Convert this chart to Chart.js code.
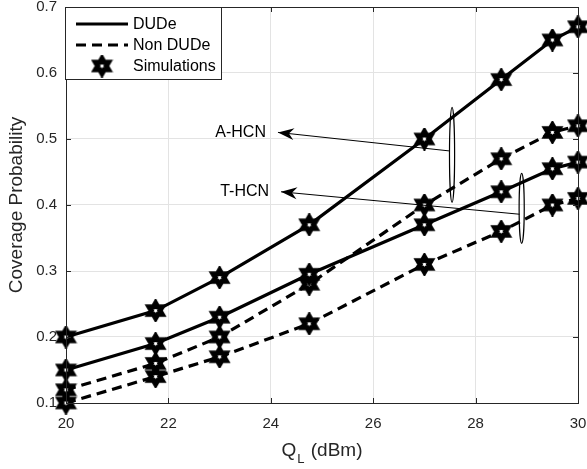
<!DOCTYPE html>
<html>
<head>
<meta charset="utf-8">
<script src="https://cdn.jsdelivr.net/npm/chart.js@4/dist/chart.umd.min.js"></script>
<style>
  html, body { margin: 0; padding: 0; background: #fff; }
  #wrap { width: 587px; height: 469px; }
</style>
</head>
<body>
<div id="wrap"><canvas id="coverageChart" width="587" height="469"></canvas></div>
<script>
// x positions of the markers (dBm)
var qlValues = [20, 21.75, 23, 24.75, 27, 28.5, 29.5, 30];

// coverage probability per curve
var aHcnDude    = [0.20, 0.24, 0.29, 0.37, 0.50, 0.59, 0.65, 0.67];
var aHcnNonDude = [0.12, 0.16, 0.20, 0.28, 0.40, 0.47, 0.51, 0.52];
var tHcnDude    = [0.15, 0.19, 0.23, 0.295, 0.37, 0.42, 0.455, 0.465];
var tHcnNonDude = [0.10, 0.14, 0.17, 0.22, 0.31, 0.36, 0.40, 0.41];

// axis ticks
var xTicks = [20, 22, 24, 26, 28, 30];
var yTicks = [0.1, 0.2, 0.3, 0.4, 0.5, 0.6, 0.7];

var legendLabels = ['DUDe', 'Non DUDe', 'Simulations'];

// ellipse groups + arrows (data coordinates)
var annotations = [
    { text: 'A-HCN', ellipse: [27.54, 0.476, 0.1, 0.072], from: [27.48, 0.482], to: [24.14, 0.51] },
    { text: 'T-HCN', ellipse: [28.9, 0.395, 0.1, 0.053], from: [28.86, 0.386], to: [24.2, 0.42] }
];

var FONT = '"Liberation Sans", Arial, sans-serif';
var INK = '#262626';

// hexagram marker
function makeHexagram(r, lw) {
    var size = Math.ceil(2 * r + lw + 2);
    var c = document.createElement('canvas');
    c.width = size; c.height = size;
    var g = c.getContext('2d');
    var cx = size / 2, cy = size / 2;
    g.beginPath();
    for (var i = 0; i < 12; i++) {
        var a = -Math.PI / 2 + i * Math.PI / 6;
        var rr = (i % 2 === 0) ? r : r / Math.sqrt(3);
        var px = cx + rr * Math.cos(a), py = cy + rr * Math.sin(a);
        if (i === 0) g.moveTo(px, py); else g.lineTo(px, py);
    }
    g.closePath();
    g.fillStyle = '#fff';
    g.fill();
    g.lineJoin = 'miter';
    g.lineWidth = lw;
    g.strokeStyle = '#000';
    g.stroke();
    return c;
}
var star = makeHexagram(7.5, 5.2);

function toPoints(ys) {
    return qlValues.map(function(x, i) { return { x: x, y: ys[i] }; });
}

function series(values, dashed) {
    return {
        data: toPoints(values),
        borderColor: '#000',
        borderWidth: 3.2,
        borderDash: dashed ? [10, 6] : [],
        pointStyle: star,      // image is drawn at its own size
        pointRadius: 3,
        pointBorderWidth: 0,
        backgroundColor: '#000',
        tension: 0,
        fill: false,
        clip: false
    };
}

function arrowHead(ctx, x1, y1, x2, y2) {
    var ang = Math.atan2(y2 - y1, x2 - x1);
    var len = 16, half = 6, notch = 5;
    ctx.save();
    ctx.translate(x2, y2);
    ctx.rotate(ang);
    ctx.beginPath();
    ctx.moveTo(0, 0);
    ctx.lineTo(-len, -half);
    ctx.lineTo(-len + notch, 0);
    ctx.lineTo(-len, half);
    ctx.closePath();
    ctx.fillStyle = '#000';
    ctx.fill();
    ctx.restore();
}

var framePlugin = {
    id: 'frame',
    afterDraw: function(chart) {
        var ctx = chart.ctx, a = chart.chartArea;
        var xs = chart.scales.x, ys = chart.scales.y;
        ctx.save();

        // annotations
        annotations.forEach(function(an) {
            var ex = xs.getPixelForValue(an.ellipse[0]);
            var ey = ys.getPixelForValue(an.ellipse[1]);
            var rx = Math.abs(xs.getPixelForValue(an.ellipse[0] + an.ellipse[2] / 2) - ex);
            var ry = Math.abs(ys.getPixelForValue(an.ellipse[1] + an.ellipse[3]) - ey);
            ctx.beginPath();
            ctx.ellipse(ex, ey, rx, ry, 0, 0, Math.PI * 2);
            ctx.lineWidth = 1.2;
            ctx.strokeStyle = '#000';
            ctx.stroke();

            var fx = xs.getPixelForValue(an.from[0]), fy = ys.getPixelForValue(an.from[1]);
            var tx = xs.getPixelForValue(an.to[0]), ty = ys.getPixelForValue(an.to[1]);
            ctx.beginPath();
            ctx.moveTo(fx, fy);
            ctx.lineTo(tx, ty);
            ctx.lineWidth = 1;
            ctx.stroke();
            arrowHead(ctx, fx, fy, tx, ty);

            ctx.font = '16px ' + FONT;
            ctx.fillStyle = '#000';
            ctx.textAlign = 'right';
            ctx.textBaseline = 'middle';
            ctx.fillText(an.text, tx - 12, ty);
        });

        // box + inward ticks
        ctx.strokeStyle = INK;
        ctx.lineWidth = 1;
        ctx.strokeRect(Math.round(a.left) + 0.5, Math.round(a.top) + 0.5,
            Math.round(a.right - a.left), Math.round(a.bottom - a.top));
        ctx.beginPath();
        xTicks.forEach(function(v) {
            var px = Math.round(xs.getPixelForValue(v)) + 0.5;
            ctx.moveTo(px, a.bottom); ctx.lineTo(px, a.bottom - 5);
            ctx.moveTo(px, a.top); ctx.lineTo(px, a.top + 5);
        });
        yTicks.forEach(function(v) {
            var py = Math.round(ys.getPixelForValue(v)) + 0.5;
            ctx.moveTo(a.left, py); ctx.lineTo(a.left + 5, py);
            ctx.moveTo(a.right, py); ctx.lineTo(a.right - 5, py);
        });
        ctx.stroke();

        // legend
        var lx = Math.round(a.left) - 1, ly = Math.round(a.top), lw = 156, lh = 72;
        ctx.fillStyle = '#fff';
        ctx.fillRect(lx, ly, lw, lh);
        ctx.strokeStyle = INK;
        ctx.strokeRect(lx + 0.5, ly + 0.5, lw, lh);
        var rows = [ly + 17, ly + 38, ly + 59];
        ctx.strokeStyle = '#000';
        ctx.lineWidth = 3.2;
        ctx.setLineDash([]);
        ctx.beginPath(); ctx.moveTo(lx + 11, rows[0]); ctx.lineTo(lx + 63, rows[0]); ctx.stroke();
        ctx.setLineDash([10, 6]);
        ctx.beginPath(); ctx.moveTo(lx + 11, rows[1]); ctx.lineTo(lx + 63, rows[1]); ctx.stroke();
        ctx.setLineDash([]);
        ctx.drawImage(star, lx + 37 - star.width / 2, rows[2] - star.height / 2);
        ctx.font = '16px ' + FONT;
        ctx.fillStyle = '#000';
        ctx.textAlign = 'left';
        ctx.textBaseline = 'middle';
        legendLabels.forEach(function(t, i) { ctx.fillText(t, lx + 68, rows[i] + 1); });

        // axis titles
        ctx.fillStyle = INK;
        var big = '19px ' + FONT, small = '13px ' + FONT;
        ctx.font = big;
        var cx = (a.left + a.right) / 2, ty2 = 451;
        var wQ = ctx.measureText('Q').width;
        var rest = ' (dBm)';
        var wR = ctx.measureText(rest).width;
        ctx.font = small;
        var wL = ctx.measureText('L').width + 2;
        var start = cx - (wQ + wL + wR) / 2;
        ctx.textAlign = 'left';
        ctx.font = big;
        ctx.fillText('Q', start, ty2);
        ctx.fillText(rest, start + wQ + wL, ty2);
        ctx.font = small;
        ctx.fillText('L', start + wQ + 1, ty2 + 8);

        ctx.font = big;
        ctx.save();
        ctx.translate(17, (a.top + a.bottom) / 2);
        ctx.rotate(-Math.PI / 2);
        ctx.textAlign = 'center';
        ctx.fillText('Coverage Probability', 0, 0);
        ctx.restore();

        ctx.restore();
    }
};

var chart = new Chart(document.getElementById('coverageChart'), {
    type: 'line',
    data: {
        datasets: [
            series(aHcnDude, false),
            series(tHcnDude, false),
            series(aHcnNonDude, true),
            series(tHcnNonDude, true)
        ]
    },
    options: {
        responsive: false,
        animation: false,
        devicePixelRatio: 1,
        layout: { padding: { top: 7, right: 9, left: 0, bottom: 0 } },
        plugins: { legend: { display: false }, tooltip: { enabled: false } },
        scales: {
            x: {
                type: 'linear',
                min: 20, max: 30,
                afterBuildTicks: function(s) { s.ticks = xTicks.map(function(v) { return { value: v }; }); },
                afterFit: function(s) { s.height = 66; s.paddingLeft = 0; s.paddingRight = 0; },
                ticks: { color: INK, font: { family: FONT, size: 15 }, padding: 12, maxRotation: 0 },
                grid: { color: '#e3e3e3', drawTicks: false },
                border: { display: false }
            },
            y: {
                type: 'linear',
                min: 0.1, max: 0.7,
                afterBuildTicks: function(s) { s.ticks = yTicks.map(function(v) { return { value: v }; }); },
                afterFit: function(s) { s.width = 66; s.paddingTop = 0; s.paddingBottom = 0; },
                ticks: {
                    color: INK, font: { family: FONT, size: 15 }, padding: 9,
                    callback: function(v) { return v.toFixed(1); }
                },
                grid: { color: '#e3e3e3', drawTicks: false },
                border: { display: false }
            }
        }
    },
    plugins: [framePlugin]
});
</script>
</body>
</html>
